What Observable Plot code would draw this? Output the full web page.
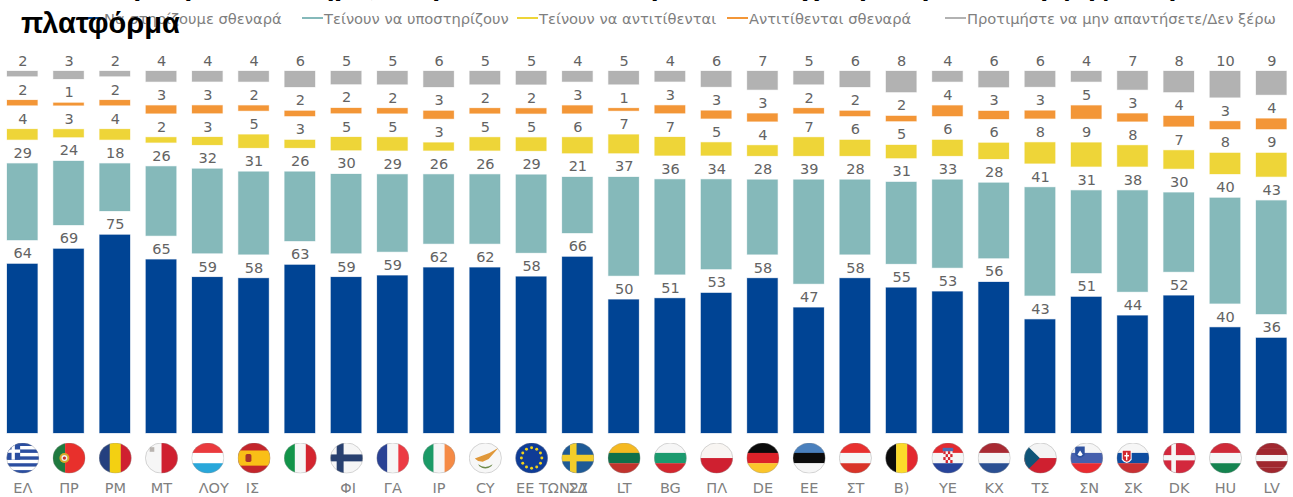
<!DOCTYPE html>
<html lang="el">
<head>
<meta charset="utf-8">
<script src="https://cdn.jsdelivr.net/npm/d3@7"></script>
<script src="https://cdn.jsdelivr.net/npm/@observablehq/plot@0.6"></script>
<style>
  html, body { margin: 0; padding: 0; background: #fff; overflow: hidden; }
  #header { position: relative; width: 1293px; height: 60px; overflow: hidden; }
  #title { position: absolute; left: 21px; top: -34.5px; z-index: 2; white-space: pre;
    font: bold 29px/38px "Liberation Sans", Arial, sans-serif; color: #000; }
  .lg { position: absolute; top: 10px; font: 14.7px/17px "DejaVu Sans", Verdana, sans-serif; color: #7f7f7f; white-space: nowrap; }
  .key { position: absolute; top: 16.5px; width: 21px; height: 2.5px; }
  #chart svg { display: block; }
</style>
</head>
<body>
<div id="header"><div id="title"></div></div>
<div id="chart"></div>
<script>
const titleText = "Σε ποιο βαθμό υποστηρίζετε ή αντιτίθεστε στην ιδέα να έχει η ΕΕ μια κοινή ψηφιακή\nπλατφόρμα";
const countries = ["EL","PT","RO","MT","LU","ES","IT","FI","FR","IE","CY","EU27","SE","LT","BG","PL","DE","EE","AT","BE","HR","NL","CZ","SI","SK","DK","HU","LV"];
const tickLabels = ["ΕΛ","ΠΡ","ΡΜ","ΜΤ","ΛΟΥ","ΙΣ","","ΦΙ","ΓΑ","ΙΡ","CY","ΕΕ ΤΩΝ27","ΣΔ","LT","BG","ΠΛ","DE","ΕΕ","ΣΤ","Β)","ΥΕ","ΚΧ","ΤΣ","ΣΝ","ΣΚ","DK","HU","LV"];
const seriesNames = ["Να στηρίζουμε σθεναρά","Τείνουν να υποστηρίζουν","Τείνουν να αντιτίθενται","Αντιτίθενται σθεναρά","Προτιμήστε να μην απαντήσετε/Δεν ξέρω"];
const seriesColors = ["#004494","#85b9ba","#eed538","#f39637","#b2b2b2"];
const stronglySupport = [64,69,75,65,59,58,63,59,59,62,62,58,66,50,51,53,58,47,58,55,53,56,43,51,44,52,40,36];
const tendSupport     = [29,24,18,26,32,31,26,30,29,26,26,29,21,37,36,34,28,39,28,31,33,28,41,31,38,30,40,43];
const tendOppose      = [4,3,4,2,3,5,3,5,5,3,5,5,6,7,7,5,4,7,6,5,6,6,8,9,8,7,8,9];
const stronglyOppose  = [2,1,2,3,3,2,2,2,2,3,2,2,3,1,3,3,3,2,2,2,4,3,3,5,3,4,3,4];
const noAnswer        = [2,3,2,4,4,4,6,5,5,6,5,5,4,5,4,6,7,5,6,8,4,6,6,4,7,8,10,9];
const seriesValues = [stronglySupport, tendSupport, tendOppose, stronglyOppose, noAnswer];

// Flag artwork (drawn on a 100x94 canvas, clipped to the round badge)
const hs = (...c) => c.map((k,i)=>`<rect x="0" y="${i*94/c.length}" width="100" height="${94/c.length+.5}" fill="${k}"/>`).join("");
const vs = (...c) => c.map((k,i)=>`<rect y="0" x="${i*100/c.length}" height="94" width="${100/c.length+.5}" fill="${k}"/>`).join("");
const r = (x,y,w,h,f)=>`<rect x="${x}" y="${y}" width="${w}" height="${h}" fill="${f}"/>`;
const stars = d3.range(12).map(i=>`<circle cx="${50+31*Math.sin(i*Math.PI/6)}" cy="${47+31*Math.cos(i*Math.PI/6)}" r="4.5" fill="#f2d21a"/>`).join("");
const flagArt = {
  EL: hs("#2b4ea0","#fff","#2b4ea0","#fff","#2b4ea0","#fff","#2b4ea0","#fff","#2b4ea0")+r(0,0,42,52,"#2b4ea0")+r(16,0,10,52,"#fff")+r(0,21,42,10,"#fff"),
  PT: r(0,0,38,94,"#1f7a3f")+r(38,0,62,94,"#e8302c")+`<circle cx="36" cy="47" r="15" fill="#d9a92a"/><circle cx="36" cy="47" r="9" fill="#eee"/><circle cx="36" cy="47" r="5" fill="#c8302c"/>`,
  RO: vs("#24407f","#f3d012","#cf2030"),
  MT: vs("#f6f6f6","#cf2030")+r(14,14,14,14,"#b9b4b0"),
  LU: hs("#ea3a3e","#fff","#29a7da"),
  ES: r(0,0,100,94,"#c3252b")+r(0,24,100,46,"#f9bf17")+`<rect x="24" y="35" width="18" height="24" rx="5" fill="#a8342a"/>`,
  IT: vs("#129449","#f6f6f6","#d4252f"),
  FI: r(0,0,100,94,"#f6f6f6")+r(0,36,100,21,"#28406f")+r(20,0,21,94,"#28406f"),
  FR: vs("#2a4294","#f6f6f6","#ec3a43"),
  IE: vs("#1b9a66","#f6f6f6","#f58a45"),
  CY: r(0,0,100,94,"#f7f7f7")+`<path d="M18 48 L40 40 L62 32 L90 16 L72 36 L60 50 L42 58 L28 56 Z" fill="#e0983a"/><path d="M28 66 Q50 82 72 66 L68 72 Q50 86 32 72 Z" fill="#6d8a4a"/>`,
  EU: r(0,0,100,94,"#0f3c96")+stars,
  SE: r(0,0,100,94,"#1e5a96")+r(0,37,100,20,"#f2cd2a")+r(26,0,20,94,"#f2cd2a"),
  LT: hs("#f5b921","#10704a","#c1332d"),
  BG: hs("#f6f6f6","#1b9a6e","#d3262e"),
  PL: hs("#f8f5f2","#cf2030"),
  DE: hs("#0b0b0b","#dc2229","#fbc52b"),
  EE: hs("#4a80bd","#0b0b0b","#f6f6f6"),
  AT: hs("#e8302f","#f6f6f6","#d93328"),
  BE: vs("#0b0b0b","#fcdb2a","#e3282f"),
  HR: hs("#e32a30","#f6f6f6","#27449a")+r(36,26,28,36,"#f6f6f6")+d3.range(4).flatMap(j=>d3.range(4).filter(i=>(i+j)%2==0).map(i=>r(36+i*7,26+j*9,7,9,"#d4252f"))).join("")+r(34,16,32,10,"#4a6fb5"),
  NL: hs("#a82a33","#f6f6f6","#2a4f92"),
  CZ: hs("#f4f4f4","#cf2030")+`<path d="M0 0 L48 47 L0 94 Z" fill="#0f5478"/>`,
  SI: hs("#f6f6f6","#4660ad","#ea2b30")+`<path d="M15 12 H44 V38 Q30 56 15 38 Z" fill="#2f52a0"/><path d="M22 36 L30 24 L38 36 Q30 46 22 36 Z" fill="#fff"/>`,
  SK: hs("#f6f6f6","#0e4da0","#c93033")+`<path d="M16 22 H46 V52 Q31 72 16 52 Z" fill="#fff"/><path d="M19 25 H43 V50 Q31 66 19 50 Z" fill="#d3262e"/><path d="M29 30 H33 V38 H38 V42 H33 V54 H29 V42 H24 V38 H29 Z" fill="#fff"/>`,
  DK: r(0,0,100,94,"#d3283d")+r(0,38,100,16,"#f6f6f6")+r(26,0,14,94,"#f6f6f6"),
  HU: hs("#cf2a38","#f6f6f6","#14834f"),
  LV: hs("#a0272f","#a0272f","#f6f6f6","#a0272f","#a0272f")
};
const flagCode = {EU27:"EU"};
const flagUri = c => {
  const art = flagArt[flagCode[c] || c];
  const svg = `<svg xmlns="http://www.w3.org/2000/svg" width="198" height="186" viewBox="0 0 100 94"><defs><clipPath id="c"><ellipse cx="50" cy="47" rx="49" ry="46"/></clipPath></defs><g clip-path="url(#c)">${art}</g><ellipse cx="50" cy="47" rx="49" ry="46" fill="none" stroke="#9a9a9a" stroke-width="1.2"/></svg>`;
  return "data:image/svg+xml;charset=utf-8," + encodeURIComponent(svg);
};

// Stacked with a constant gap (in value units) between the segments; shares are rescaled to 100
const gap = 8.9;
const segments = [];
countries.forEach((c, i) => {
  const vals = seriesValues.map(s => s[i]);
  const sum = d3.sum(vals);
  let base = 0;
  vals.forEach((v, k) => {
    const h = v / sum * 100;
    segments.push({country: c, series: seriesNames[k], value: v, y1: base, y2: base + h});
    base += h + gap;
  });
});
const rows = countries.map((c, i) => ({country: c, label: tickLabels[i]}));
const labelNudge = {LU: 6, ES: -1.5, FI: 1.5, EU27: 20.5, SI: 2.5};
const nudges = [...new Set(rows.map(d => labelNudge[d.country] || 0))];

const plot = Plot.plot({
  width: 1293, height: 437,
  marginLeft: 7, marginRight: 6.5, marginTop: 0, marginBottom: 0,
  style: {fontFamily: '"DejaVu Sans", Verdana, sans-serif', background: "transparent", overflow: "visible"},
  x: {domain: countries, paddingInner: 0.34, paddingOuter: 0, round: false, axis: null},
  y: {domain: [0, 100 + 4 * gap], range: [373, 11], axis: null},
  color: {domain: seriesNames, range: seriesColors},
  marks: [
    Plot.barY(segments, {x: "country", y1: "y1", y2: "y2", fill: "series", stroke: "series", strokeOpacity: 0.25, strokeWidth: 1}),
    Plot.text(segments, {x: "country", y: "y2", text: "value", lineAnchor: "bottom", dy: -6, fontSize: 14.5, fill: "#636363"}),
    Plot.image(rows, {x: "country", y: () => -9.2, src: d => flagUri(d.country), width: 33, height: 31}),
    ...nudges.map(n => Plot.text(rows.filter(d => (labelNudge[d.country] || 0) === n), {
      x: "country", y: () => -20.7, text: "label", dx: n, fontSize: 14.5, fill: "#7f7f7f"
    }))
  ]
});
document.getElementById("chart").append(plot);

// Header: title (overflowing the top edge) and the legend
const header = document.getElementById("header");
document.getElementById("title").textContent = titleText;
const keyX = [82, 302, 517, 727, 945];
seriesNames.forEach((name, i) => {
  const key = document.createElement("div");
  key.className = "key"; key.style.left = keyX[i] + "px"; key.style.background = seriesColors[i];
  const lab = document.createElement("div");
  lab.className = "lg"; lab.style.left = (keyX[i] + 22) + "px"; lab.textContent = name;
  header.append(key, lab);
});
</script>
</body>
</html>
